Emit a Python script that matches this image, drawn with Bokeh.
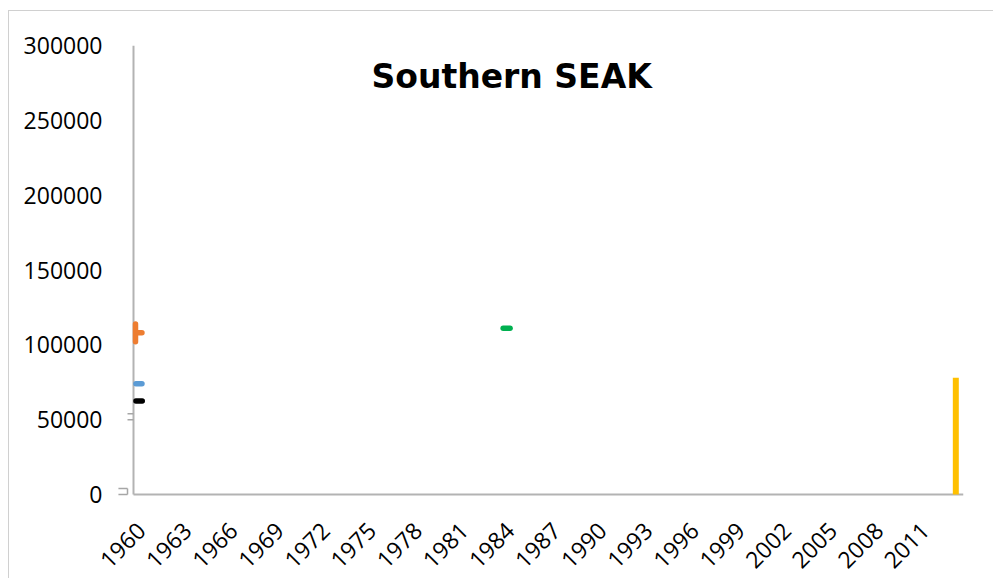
from math import pi

from bokeh.plotting import figure
from bokeh.models import FixedTicker, Range1d, Label, NumeralTickFormatter
from bokeh.embed import file_html
from bokeh.resources import INLINE

# ---- data -------------------------------------------------------------
title_text = "Southern SEAK"
tick_years = list(range(1960, 2012, 3))
y_ticks = [0, 50000, 100000, 150000, 200000, 250000, 300000]

first_year, last_year = 1960, 2013

orange_years = [1959.63, 1959.63, 1959.63, 1960.05]
orange_vals = [114000, 102000, 108000, 108000]

blue_years = [1959.66, 1960.05]
blue_vals = [74000, 74000]

black_years = [1959.66, 1960.07]
black_vals = [62500, 62500]

green_years = [1983.55, 1984.0]
green_vals = [111000, 111000]

bar_years = [2013]
bar_vals = [78000]

# small grey markers sitting just left of the value axis
mark_x0 = [1959.11, 1959.11, 1958.52, 1958.52, 1959.11]
mark_x1 = [1959.50, 1959.50, 1959.11, 1959.11, 1959.11]
mark_y0 = [54000, 50000, 4000, 0, 0]
mark_y1 = [54000, 50000, 4000, 0, 4000]

# ---- figure -----------------------------------------------------------
FONT = "Open Sans"
TITLE_FONT = "DejaVu Sans"
AXIS_GREY = "#b3b3b3"

x_lo = first_year - 0.5 - 20 / 15.37
x_hi = last_year + 0.5
p = figure(
    frame_width=850, frame_height=451,
    x_range=Range1d(x_lo, x_hi),
    y_range=Range1d(-1336, 300000),
    output_backend="svg", toolbar_location=None,
    min_border_left=104, min_border_top=34,
    min_border_right=30, min_border_bottom=78,
)
p.styles = {
    "margin-top": "10px", "margin-left": "8px",
    "border-top": "1px solid #d0d0d0", "border-left": "1px solid #d0d0d0",
}
p.outline_line_color = None
p.xgrid.visible = False
p.ygrid.visible = False
p.background_fill_color = "white"
p.border_fill_color = "white"

for ax in (p.xaxis[0], p.yaxis[0]):
    ax.axis_line_color = None
    ax.major_tick_line_color = None
    ax.minor_tick_line_color = None
    ax.major_label_text_font = FONT
    ax.major_label_text_font_size = "23px"
    ax.major_label_text_color = "black"

p.xaxis.ticker = FixedTicker(ticks=tick_years)
p.xaxis.major_label_orientation = pi / 4
p.xaxis.major_label_standoff = 24
p.yaxis.ticker = FixedTicker(ticks=y_ticks)
p.yaxis.formatter = NumeralTickFormatter(format="0")
p.yaxis.major_label_standoff = 5

# axis lines drawn from the first category edge
p.segment(x0=[first_year - 0.5, first_year - 0.5], y0=[0, 0],
          x1=[first_year - 0.5, last_year + 0.5], y1=[300000, 0],
          line_color=AXIS_GREY, line_width=2)

p.segment(x0=mark_x0, y0=mark_y0, x1=mark_x1, y1=mark_y1,
          line_color="#a6a6a6", line_width=1.5)

# series
line_kw = dict(line_width=5.5, line_cap="round", line_join="round")
p.line(orange_years, orange_vals, line_color="#ED7D31", **line_kw)
p.line(blue_years, blue_vals, line_color="#5B9BD5", **line_kw)
p.line(black_years, black_vals, line_color="black", **line_kw)
p.line(green_years, green_vals, line_color="#00B050", **line_kw)
p.vbar(x=bar_years, top=bar_vals, bottom=0, width=0.39,
       fill_color="#FFC000", line_color=None)

p.add_layout(Label(x=1984.1, y=279000, text=title_text,
                   text_font=TITLE_FONT, text_font_style="bold",
                   text_font_size="33px", text_align="center",
                   text_baseline="alphabetic", text_color="black"))

open("out.html", "w").write(file_html(p, INLINE))
